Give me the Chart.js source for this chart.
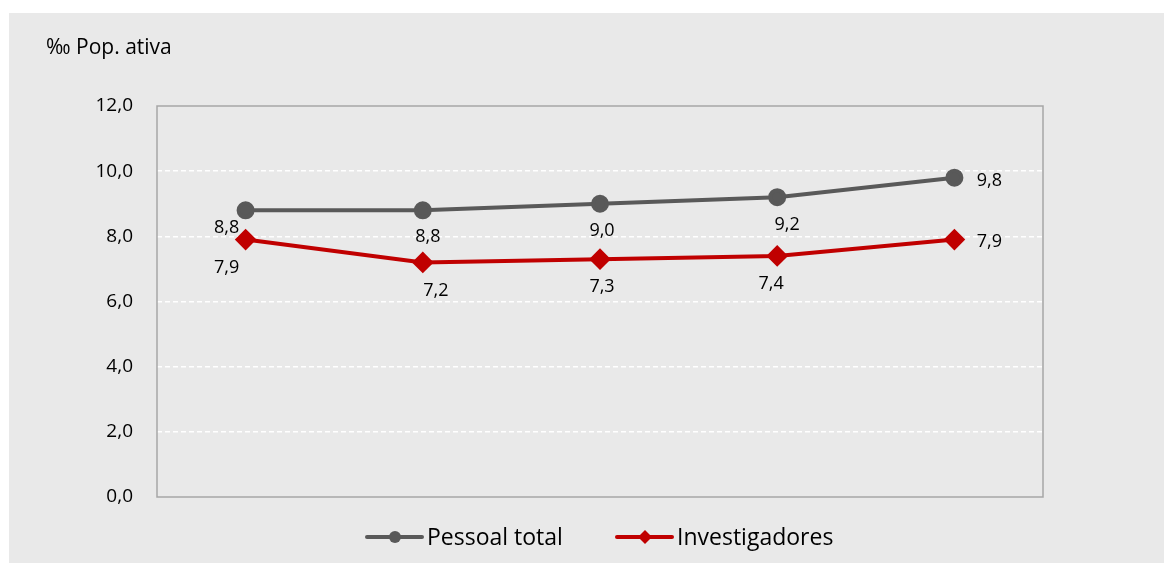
<!DOCTYPE html>
<html lang="pt">
<head>
<meta charset="utf-8">
<script src="https://cdn.jsdelivr.net/npm/chart.js@4.4.1/dist/chart.umd.min.js"></script>
<style>
    html, body { margin: 0; padding: 0; background: #ffffff; }
    #wrap { width: 1165px; height: 563px; position: relative; }
</style>
</head>
<body>
<div id="wrap"><canvas id="rdChart" width="1165" height="563"></canvas></div>
<script>
// Data
const years = ['2008', '2009', '2010', '2011', '2012'];
const pessoalTotal = [8.8, 8.8, 9.0, 9.2, 9.8];
const investigadores = [7.9, 7.2, 7.3, 7.4, 7.9];
const yTicks = [0, 2, 4, 6, 8, 10, 12];
const unitLabel = '‰ Pop. ativa';

const FONT = '"Open Sans", "Noto Sans", sans-serif';
const GREY = '#595959';
const RED = '#c00000';

const fmt = (v) => v.toFixed(1).replace('.', ',');

// Per-point label offsets (dx, dy from the point centre)
const labelOffsets = [
    [[-19, 18], [5, 27], [2, 27], [10, 28], [35, 3]],
    [[-19, 28], [13, 28], [2, 28], [-6, 28], [35, 2]]
];

// Panel background, frame, title, value labels and legend
const decorations = {
    id: 'decorations',
    beforeDraw(chart) {
        const ctx = chart.ctx;
        ctx.save();
        ctx.fillStyle = '#e9e9e9';
        ctx.fillRect(9, 13, chart.width - 10, chart.height - 13);
        ctx.restore();
    },
    beforeDatasetsDraw(chart) {
        const { ctx, chartArea: a } = chart;
        ctx.save();
        ctx.strokeStyle = '#a6a6a6';
        ctx.lineWidth = 1.5;
        ctx.strokeRect(a.left, a.top, a.right - a.left, a.bottom - a.top);
        ctx.restore();
    },
    afterDraw(chart) {
        const ctx = chart.ctx;
        ctx.save();
        ctx.fillStyle = '#000';
        ctx.textBaseline = 'middle';
        ctx.font = '21px ' + FONT;
        ctx.textAlign = 'left';
        ctx.fillText(unitLabel, 46, 48);

        // value labels
        ctx.font = '18px ' + FONT;
        ctx.textAlign = 'center';
        chart.data.datasets.forEach((ds, di) => {
            const meta = chart.getDatasetMeta(di);
            meta.data.forEach((pt, i) => {
                const [dx, dy] = labelOffsets[di][i];
                ctx.fillText(fmt(ds.data[i]), pt.x + dx, pt.y + dy);
            });
        });

        // legend
        const items = [
            { x: 367, ds: chart.data.datasets[0] },
            { x: 617, ds: chart.data.datasets[1] }
        ];
        const ly = 537;
        items.forEach(({ x, ds }) => {
            ctx.strokeStyle = ds.borderColor;
            ctx.lineWidth = 4;
            ctx.lineCap = 'round';
            ctx.beginPath();
            ctx.moveTo(x, ly);
            ctx.lineTo(x + 55, ly);
            ctx.stroke();
            ctx.fillStyle = ds.borderColor;
            ctx.beginPath();
            if (ds.pointStyle === 'circle') {
                ctx.arc(x + 28, ly, 6, 0, Math.PI * 2);
            } else {
                ctx.moveTo(x + 28, ly - 7);
                ctx.lineTo(x + 35, ly);
                ctx.lineTo(x + 28, ly + 7);
                ctx.lineTo(x + 21, ly);
                ctx.closePath();
            }
            ctx.fill();
            ctx.fillStyle = '#000';
            ctx.font = '23px ' + FONT;
            ctx.textAlign = 'left';
            ctx.fillText(ds.label, x + 60, ly + 1);
        });
        ctx.restore();
    }
};

new Chart(document.getElementById('rdChart'), {
    type: 'line',
    data: {
        labels: years,
        datasets: [
            {
                label: 'Pessoal total',
                data: pessoalTotal,
                borderColor: GREY,
                backgroundColor: GREY,
                borderWidth: 4,
                pointStyle: 'circle',
                pointRadius: 7,
                pointHoverRadius: 7,
                tension: 0
            },
            {
                label: 'Investigadores',
                data: investigadores,
                borderColor: RED,
                backgroundColor: RED,
                borderWidth: 4,
                pointStyle: 'rectRot',
                pointRadius: 8,
                pointHoverRadius: 8,
                tension: 0
            }
        ]
    },
    options: {
        responsive: false,
        animation: false,
        devicePixelRatio: 1,
        layout: { padding: { left: 0, top: 106, right: 122, bottom: 66 } },
        plugins: {
            legend: { display: false },
            tooltip: { enabled: false }
        },
        scales: {
            x: {
                offset: true,
                grid: { display: false, drawTicks: false },
                border: { display: false },
                ticks: { display: false },
                afterFit(scale) { scale.height = 0; }
            },
            y: {
                min: 0,
                max: 12,
                afterBuildTicks(scale) { scale.ticks = yTicks.map(v => ({ value: v })); },
                afterFit(scale) { scale.width = 157; },
                border: { display: false, dash: [5, 3] },
                grid: {
                    color: (c) => (c.tick.value === 0 || c.tick.value === 12) ? 'rgba(0,0,0,0)' : '#ffffff',
                    lineWidth: 1.5,
                    drawTicks: false
                },
                ticks: {
                    padding: 24,
                    color: '#000',
                    font: { family: FONT, size: 19 },
                    callback: (v) => fmt(v)
                }
            }
        }
    },
    plugins: [decorations]
});
</script>
</body>
</html>
